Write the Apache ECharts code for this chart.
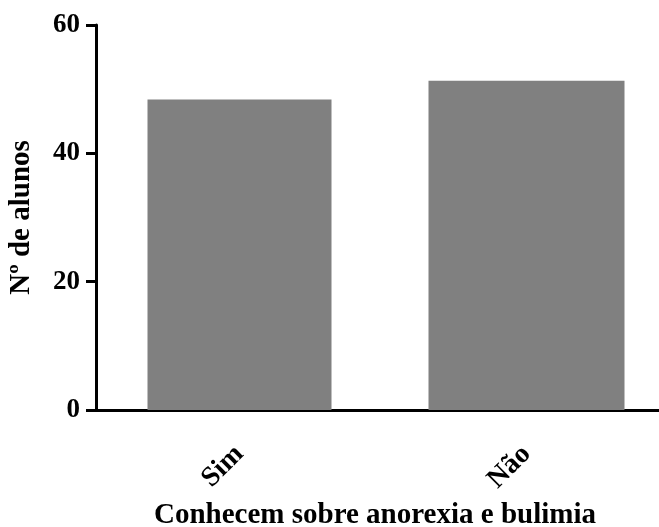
<!DOCTYPE html>
<html>
<head>
<meta charset="utf-8">
<script src="https://cdn.jsdelivr.net/npm/echarts@6/dist/echarts.min.js"></script>
<style>html,body{margin:0;padding:0;background:#fff}#c{width:659px;height:527px}</style>
</head>
<body>
<div id="c"></div>
<script>
const categories = ['Sim', 'Não'];
const simValues = [48.4, '-'];
const naoValues = ['-', 51.3];
const yTicks = [0, 20, 40, 60];
const xTitle = 'Conhecem sobre anorexia e bulimia';
const yTitle = 'Nº de alunos';

const font = 'Liberation Serif';
const chart = echarts.init(document.getElementById('c'), null, {renderer: 'canvas'});
const axisBase = {
  type: 'category',
  data: categories,
  axisLine: {lineStyle: {color: '#000', width: 3}},
  axisTick: {alignWithLabel: true, length: 10, lineStyle: {color: '#000', width: 3}},
  axisLabel: {rotate: 45, margin: 40, padding: [20, 0, 0, 0], color: '#000', fontFamily: font, fontWeight: 'bold', fontSize: 28},
  splitLine: {show: false}
};
chart.setOption({
  animation: false,
  backgroundColor: '#fff',
  grid: {left: 96, width: 574, top: 25, bottom: 117, containLabel: false, outerBoundsMode: 'none'},
  xAxis: [
    Object.assign({}, axisBase, {
      name: xTitle, nameLocation: 'middle', nameGap: 90,
      nameTextStyle: {color: '#000', fontFamily: font, fontWeight: 'bold', fontSize: 29, padding: [0, 16, 0, 0]}
    }),
    Object.assign({}, axisBase, {show: false})
  ],
  yAxis: {
    type: 'value', min: yTicks[0], max: yTicks[yTicks.length - 1], interval: 20,
    name: yTitle, nameLocation: 'middle', nameGap: 60,
    nameTextStyle: {color: '#000', fontFamily: font, fontWeight: 'bold', fontSize: 29, padding: [0, 0, 0, 0]},
    axisLine: {show: true, lineStyle: {color: '#000', width: 3}},
    axisTick: {show: true, length: 10, lineStyle: {color: '#000', width: 3}},
    axisLabel: {margin: 16, color: '#000', fontFamily: font, fontWeight: 'bold', fontSize: 27},
    splitLine: {show: false}
  },
  series: [
    {type: 'bar', xAxisIndex: 0, data: simValues, barWidth: 184, itemStyle: {color: '#808080'}},
    {type: 'bar', xAxisIndex: 1, data: naoValues, barWidth: 196, itemStyle: {color: '#808080'}}
  ]
});
</script>
</body>
</html>
